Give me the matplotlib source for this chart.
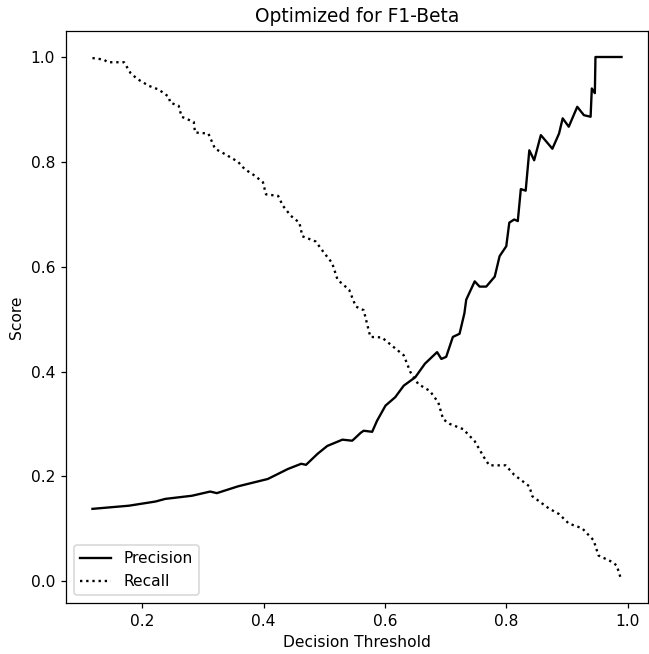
import matplotlib
matplotlib.use("Agg")
import matplotlib.pyplot as plt

prec_x = [0.118, 0.178, 0.222, 0.238, 0.282, 0.312, 0.323, 0.358, 0.407, 0.440, 0.462, 0.470,
          0.489, 0.505, 0.530, 0.546, 0.549, 0.560, 0.565, 0.579, 0.587, 0.601, 0.617, 0.631,
          0.650, 0.666, 0.686, 0.693, 0.701, 0.712, 0.723, 0.731, 0.734, 0.748, 0.756, 0.767,
          0.781, 0.789, 0.800, 0.805, 0.813, 0.819, 0.824, 0.832, 0.838, 0.846, 0.857, 0.876,
          0.887, 0.893, 0.903, 0.917, 0.928, 0.939, 0.941, 0.946, 0.947, 0.990]
prec_y = [0.138, 0.144, 0.152, 0.157, 0.163, 0.171, 0.168, 0.181, 0.195, 0.214, 0.224, 0.222,
          0.243, 0.258, 0.270, 0.268, 0.271, 0.283, 0.287, 0.285, 0.306, 0.335, 0.351, 0.373,
          0.389, 0.415, 0.437, 0.424, 0.428, 0.466, 0.472, 0.511, 0.537, 0.572, 0.562, 0.562,
          0.581, 0.620, 0.639, 0.684, 0.690, 0.687, 0.748, 0.745, 0.822, 0.803, 0.851, 0.825,
          0.854, 0.883, 0.867, 0.905, 0.889, 0.886, 0.940, 0.931, 1.000, 1.000]

rec_x = [0.118, 0.137, 0.143, 0.170, 0.181, 0.192, 0.211, 0.227, 0.244, 0.246, 0.260, 0.265,
         0.285, 0.287, 0.309, 0.320, 0.336, 0.358, 0.369, 0.385, 0.399, 0.404, 0.424, 0.432,
         0.445, 0.459, 0.464, 0.486, 0.500, 0.513, 0.522, 0.541, 0.552, 0.565, 0.576, 0.595,
         0.614, 0.631, 0.642, 0.655, 0.674, 0.688, 0.696, 0.707, 0.729, 0.748, 0.764, 0.772,
         0.799, 0.813, 0.838, 0.843, 0.870, 0.887, 0.903, 0.925, 0.944, 0.952, 0.974, 0.982,
         0.988]
rec_y = [0.998, 0.995, 0.990, 0.990, 0.969, 0.958, 0.945, 0.938, 0.924, 0.913, 0.907, 0.886,
         0.876, 0.856, 0.854, 0.825, 0.815, 0.800, 0.786, 0.774, 0.761, 0.738, 0.735, 0.716,
         0.697, 0.684, 0.658, 0.648, 0.626, 0.607, 0.575, 0.556, 0.524, 0.517, 0.466, 0.465,
         0.447, 0.431, 0.399, 0.376, 0.363, 0.341, 0.309, 0.300, 0.290, 0.267, 0.235, 0.221,
         0.221, 0.203, 0.181, 0.162, 0.139, 0.128, 0.110, 0.101, 0.078, 0.049, 0.037, 0.030,
         0.008]

DPI = 112
fig = plt.figure(figsize=(649 / DPI, 654 / DPI), dpi=DPI)
ax = fig.add_axes([66/649, 1-603/654, (648-66)/649, (603-31)/654])
ax.plot(prec_x, prec_y, color="black", linestyle="-", linewidth=1.5, label="Precision")
ax.plot(rec_x, rec_y, color="black", linestyle=":", linewidth=1.5, label="Recall")
ax.set_title("Optimized for F1-Beta")
ax.set_xlabel("Decision Threshold")
ax.set_ylabel("Score")
ax.legend(loc="lower left")
fig.savefig("out.png", dpi=DPI)
